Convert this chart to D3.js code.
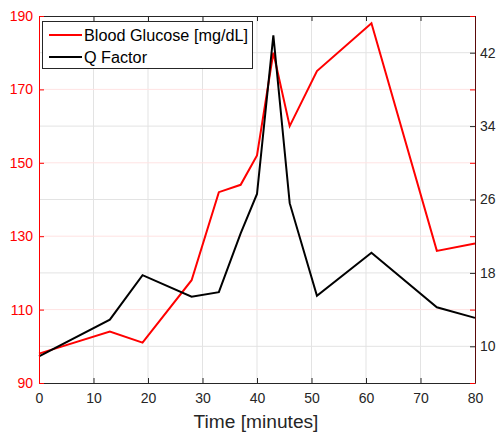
<!DOCTYPE html>
<html><head><meta charset="utf-8">
<script src="https://cdn.jsdelivr.net/npm/d3@7"></script>
<style>body{margin:0;background:#fff}svg{display:block}text{font-family:"Liberation Sans",Arial,Helvetica,sans-serif}</style>
</head><body>
<script>
const time = [0, 13, 19, 28, 33, 37, 40, 43, 46, 51, 61, 73, 80];
const glucose = [98, 104, 101, 118, 142, 144, 152, 180, 160, 175, 188, 126, 128];
const qFactor = [8.9, 12.9, 17.75, 15.4, 15.9, 22.3, 26.6, 43.9, 25.6, 15.5, 20.2, 14.25, 13.1];
const xTicks = [0, 10, 20, 30, 40, 50, 60, 70, 80];
const leftTicks = [90, 110, 130, 150, 170, 190];
const rightTicks = [10, 18, 26, 34, 42];
const seriesNames = ["Blood Glucose [mg/dL]", "Q Factor"];
const xLabel = "Time [minutes]";

(function () {
const W = 497, H = 432;
const L = 39, R = 475, T = 16, B = 383;
const svg = d3.select("body").append("svg").attr("width", W).attr("height", H);
const x = d3.scaleLinear().domain([0, 80]).range([L, R]);
const yL = d3.scaleLinear().domain([90, 190]).range([B, T]);
const yR = d3.scaleLinear().domain([6, 46]).range([B, T]);
const red = "#ff0000", dark = "#262626";

// grids
const g = svg.append("g");
g.selectAll(".gx").data(xTicks.slice(1, -1)).join("line")
  .attr("x1", d => x(d)).attr("x2", d => x(d)).attr("y1", T).attr("y2", B)
  .attr("stroke", "#e3e3e3").attr("stroke-width", 1);
g.append("g").selectAll("line").data(rightTicks).join("line")
  .attr("x1", L).attr("x2", R).attr("y1", d => yR(d)).attr("y2", d => yR(d))
  .attr("stroke", "#e3e3e3").attr("stroke-width", 1);
g.append("g").selectAll("line").data(leftTicks.slice(1, -1)).join("line")
  .attr("x1", L).attr("x2", R).attr("y1", d => yL(d)).attr("y2", d => yL(d))
  .attr("stroke", "#ffe3e3").attr("stroke-width", 1);

// lines
const lineG = d3.line().x((d, i) => x(time[i])).y(d => yL(d));
const lineQ = d3.line().x((d, i) => x(time[i])).y(d => yR(d));
svg.append("path").datum(glucose).attr("d", lineG).attr("fill", "none")
  .attr("stroke", red).attr("stroke-width", 2).attr("stroke-linejoin", "miter");
svg.append("path").datum(qFactor).attr("d", lineQ).attr("fill", "none")
  .attr("stroke", "#000").attr("stroke-width", 2).attr("stroke-linejoin", "miter");

// axes
const tickLen = 5;
const axB = svg.append("g").attr("transform", `translate(0,${B})`)
  .call(d3.axisBottom(x).tickValues(xTicks).tickSizeInner(-tickLen).tickSizeOuter(0).tickPadding(10));
const axT = svg.append("g").attr("transform", `translate(0,${T})`)
  .call(d3.axisTop(x).tickValues(xTicks).tickSizeInner(-tickLen).tickSizeOuter(0).tickFormat(""));
[axB, axT].forEach(a => {
  a.select(".domain").attr("stroke", dark);
  a.selectAll(".tick line").attr("stroke", dark);
  a.selectAll("text").attr("fill", dark).attr("font-size", 14);
});
const axL = svg.append("g").attr("transform", `translate(${L},0)`)
  .call(d3.axisLeft(yL).tickValues(leftTicks).tickSizeInner(-tickLen).tickSizeOuter(0).tickPadding(6));
axL.select(".domain").attr("stroke", red);
axL.selectAll(".tick line").attr("stroke", red);
axL.selectAll("text").attr("fill", red).attr("font-size", 14);

const axRR = svg.append("g").attr("transform", `translate(${R},0)`)
  .call(d3.axisRight(yL).tickValues(leftTicks).tickSizeInner(-tickLen).tickSizeOuter(0).tickFormat(""));
axRR.select(".domain").remove();
axRR.selectAll(".tick line").attr("stroke", red);
const axR = svg.append("g").attr("transform", `translate(${R},0)`)
  .call(d3.axisRight(yR).tickValues(rightTicks).tickSizeInner(-tickLen).tickSizeOuter(0).tickPadding(5));
axR.select(".domain").attr("stroke", "#5a0a0a");
axR.selectAll(".tick line").attr("stroke", dark);
axR.selectAll("text").attr("fill", dark).attr("font-size", 14);

const xl = svg.append("text").attr("x", (L + R) / 2 - 1).attr("y", 428).attr("text-anchor", "middle")
  .attr("font-size", 19).attr("fill", dark).text(xLabel);
const xlw = xl.node().getComputedTextLength();
if (xlw > 0) xl.attr("font-size", Math.min(21, Math.max(15, 19 * 125 / xlw)));

// legend
const lg = svg.append("g");
lg.append("rect").attr("x", 42.5).attr("y", 21.5).attr("width", 210).attr("height", 47)
  .attr("fill", "#fff").attr("stroke", dark).attr("stroke-width", 1);
const colors = [red, "#000"];
const texts = [];
seriesNames.forEach((n, i) => {
  const yy = 35 + i * 22;
  lg.append("line").attr("x1", 49).attr("x2", 82).attr("y1", yy).attr("y2", yy)
    .attr("stroke", colors[i]).attr("stroke-width", 2);
  texts.push(lg.append("text").attr("x", 84).attr("y", yy + 6).attr("font-size", 16).attr("fill", "#000").text(n));
});
const w0 = texts[0].node().getComputedTextLength();
if (w0 > 0) {
  const fs = Math.min(18, Math.max(13, 16 * 164 / w0));
  texts.forEach(t => t.attr("font-size", fs));
}
})();
</script>
</body></html>
